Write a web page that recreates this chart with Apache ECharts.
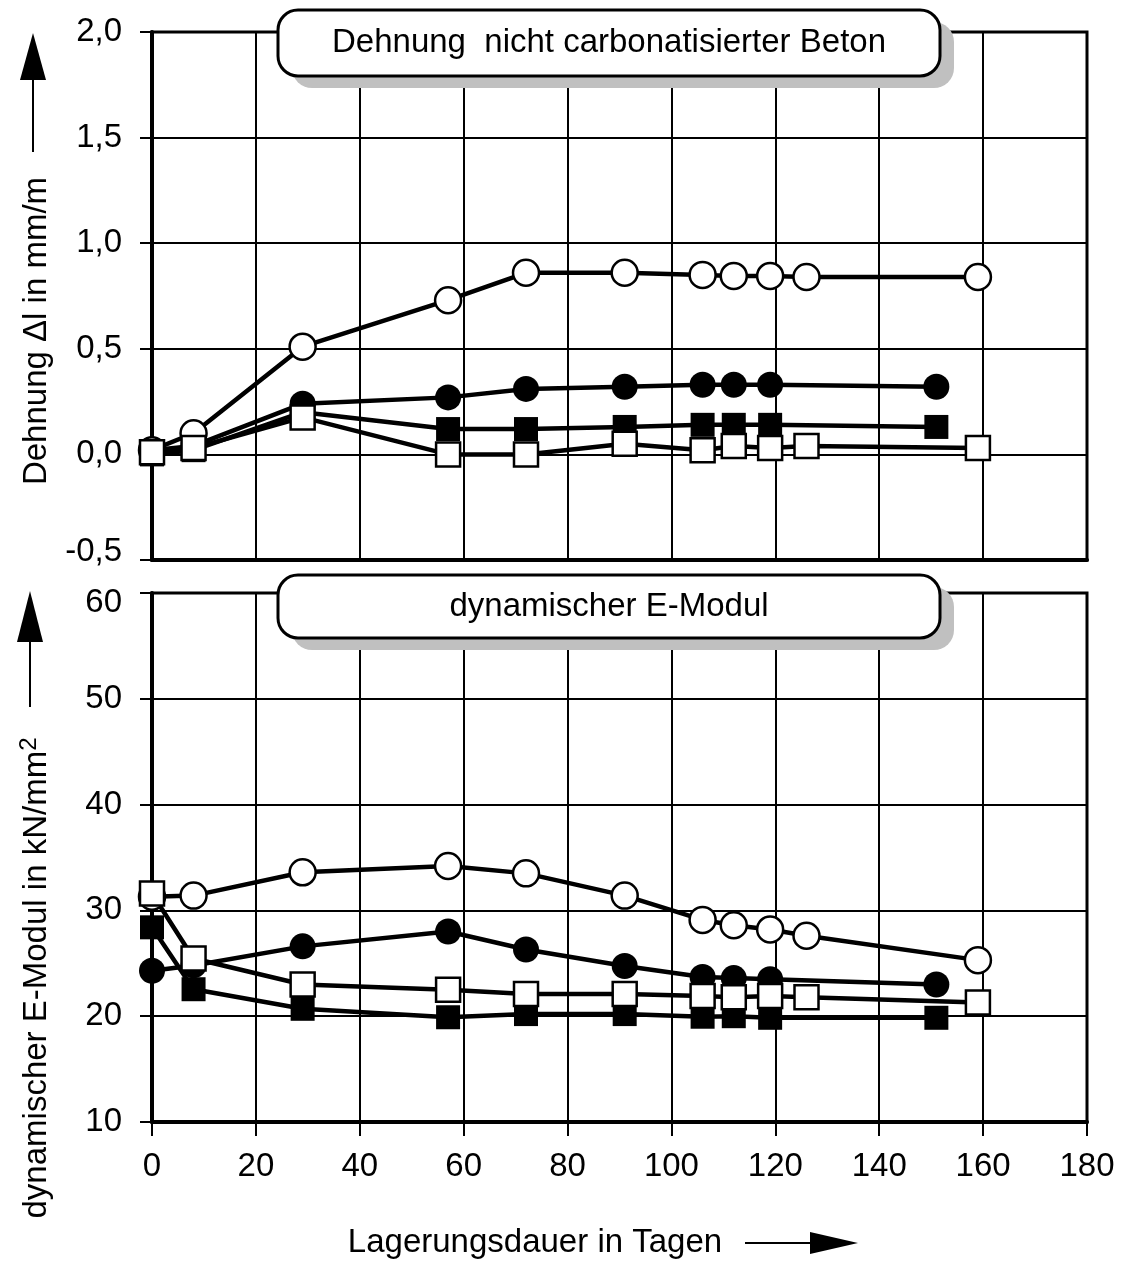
<!DOCTYPE html>
<html><head><meta charset="utf-8">
<script src="https://cdn.jsdelivr.net/npm/echarts/dist/echarts.min.js"></script>
<style>html,body{margin:0;padding:0;background:#fff}#c{width:1121px;height:1261px}</style>
</head><body><div id="c"></div>
<script>
// ---- tick labels ----
const xTickValues = [0, 20, 40, 60, 80, 100, 120, 140, 160, 180];
const strainTicks = ['-0,5', '0,0', '0,5', '1,0', '1,5', '2,0'];
const modulusTicks = ['10', '20', '30', '40', '50', '60'];

// ---- days ----
const daysOpenCircle = [0, 8, 29, 57, 72, 91, 106, 112, 119, 126, 159];
const daysFilledCircle = [0, 8, 29, 57, 72, 91, 106, 112, 119, 151];
const daysFilledSquare = [0, 8, 29, 57, 72, 91, 106, 112, 119, 151];
const daysOpenSquare = [0, 8, 29, 57, 72, 91, 106, 112, 119, 126, 159];

// ---- Dehnung (mm/m) ----
const strainOpenCircle = [0.02, 0.10, 0.51, 0.73, 0.86, 0.86, 0.85, 0.845, 0.845, 0.84, 0.84];
const strainFilledCircle = [0.02, 0.04, 0.24, 0.27, 0.31, 0.32, 0.33, 0.33, 0.33, 0.32];
const strainFilledSquare = [0.00, 0.02, 0.20, 0.12, 0.12, 0.13, 0.14, 0.14, 0.14, 0.13];
const strainOpenSquare = [0.01, 0.03, 0.175, 0.00, 0.00, 0.05, 0.02, 0.04, 0.03, 0.04, 0.03];

// ---- dyn. E-Modul (kN/mm2) ----
const modOpenCircle = [31.3, 31.4, 33.6, 34.2, 33.5, 31.4, 29.1, 28.6, 28.2, 27.6, 25.3];
const modFilledCircle = [24.3, 24.8, 26.6, 28.0, 26.3, 24.75, 23.7, 23.6, 23.5, 23.0];
const modFilledSquare = [28.4, 22.55, 20.7, 19.9, 20.2, 20.2, 19.95, 20.0, 19.85, 19.85];
const modOpenSquare = [31.6, 25.45, 23.0, 22.5, 22.1, 22.1, 21.9, 21.8, 21.9, 21.8, 21.3];

const titleTop = 'Dehnung  nicht carbonatisierter Beton';
const titleBottom = 'dynamischer E-Modul';
const yNameTop = 'Dehnung \u0394l in mm/m';
const yNameBottom = 'dynamischer E-Modul in kN/mm';
const xName = 'Lagerungsdauer in Tagen';

const FONT = '"Liberation Sans", Arial, sans-serif';
const FS = 33;
const zip = (xs, ys) => xs.map((x, i) => [x, ys[i]]);

function mkSeries(xIdx, days, vals, symbol, filled) {
  return {
    type: 'line', xAxisIndex: xIdx, yAxisIndex: xIdx,
    data: zip(days, vals),
    symbol: symbol,
    symbolSize: symbol === 'circle' ? 26 : 24,
    lineStyle: { color: '#000', width: 4.5 },
    itemStyle: { color: filled ? '#000' : '#fff', borderColor: '#000', borderWidth: filled ? 0 : 2.5, opacity: 1 },
    emphasis: { disabled: true },
    animation: false, silent: true, z: 3
  };
}

function box(x, y, w, h, text) {
  return [
    { type: 'rect', z: 100, shape: { x: x + 14, y: y + 12, width: w, height: h, r: 20 }, style: { fill: '#c0c0c0' } },
    { type: 'rect', z: 101, shape: { x: x, y: y, width: w, height: h, r: 20 }, style: { fill: '#fff', stroke: '#000', lineWidth: 3 } },
    { type: 'text', z: 102, x: x + w / 2, y: y + h / 2, style: { text: text, font: FS + 'px ' + FONT, fill: '#000', textAlign: 'center', textVerticalAlign: 'middle' } }
  ];
}

const chart = echarts.init(document.getElementById('c'), null, { renderer: 'canvas' });
const labelRich = {
  up: { fontSize: FS, fontFamily: FONT, color: '#000', padding: [0, 0, 16, 0] },
  dn: { fontSize: FS, fontFamily: FONT, color: '#000', padding: [20, 0, 0, 0] }
};
const yAxisCommon = {
  type: 'value',
  axisLine: { show: true, lineStyle: { color: '#000', width: 4 } },
  axisTick: { show: true, length: 12, lineStyle: { color: '#000', width: 2 } },
  splitLine: { show: true, lineStyle: { color: '#000', width: 2 } },
  axisLabel: { color: '#000', fontSize: FS, fontFamily: FONT, margin: 30, rich: labelRich }
};

chart.setOption({
  animation: false,
  backgroundColor: '#fff',
  grid: [
    { left: 152, right: 34, top: 32, height: 528, show: true, borderColor: '#000', borderWidth: 3, backgroundColor: 'transparent' },
    { left: 152, right: 34, top: 593, height: 529, show: true, borderColor: '#000', borderWidth: 3, backgroundColor: 'transparent' }
  ],
  xAxis: [
    { type: 'value', gridIndex: 0, min: 0, max: 180, interval: 20,
      axisLine: { show: true, onZero: false, lineStyle: { color: '#000', width: 4 } },
      axisTick: { show: false }, axisLabel: { show: false },
      splitLine: { show: true, lineStyle: { color: '#000', width: 2 } } },
    { type: 'value', gridIndex: 1, min: 0, max: 180, interval: 20,
      axisLine: { show: true, onZero: false, lineStyle: { color: '#000', width: 4 } },
      axisTick: { show: true, length: 14, lineStyle: { color: '#000', width: 2 } },
      axisLabel: { color: '#000', fontSize: FS, fontFamily: FONT, margin: 28,
        formatter: v => xTickValues.includes(v) ? String(v) : '' },
      splitLine: { show: true, lineStyle: { color: '#000', width: 2 } } }
  ],
  yAxis: [
    Object.assign({}, yAxisCommon, { gridIndex: 0, min: -0.5, max: 2.0, interval: 0.5,
      axisLabel: Object.assign({}, yAxisCommon.axisLabel, { formatter: v => {
        const t = strainTicks[Math.round((v + 0.5) / 0.5)];
        return v < -0.25 ? '{up|' + t + '}' : t;
      } }) }),
    Object.assign({}, yAxisCommon, { gridIndex: 1, min: 10, max: 60, interval: 10,
      axisLabel: Object.assign({}, yAxisCommon.axisLabel, { formatter: v => {
        const t = modulusTicks[Math.round((v - 10) / 10)];
        return v > 55 ? '{dn|' + t + '}' : t;
      } }) })
  ],
  series: [
    mkSeries(0, daysFilledCircle, strainFilledCircle, 'circle', true),
    mkSeries(0, daysFilledSquare, strainFilledSquare, 'rect', true),
    mkSeries(0, daysOpenCircle, strainOpenCircle, 'circle', false),
    mkSeries(0, daysOpenSquare, strainOpenSquare, 'rect', false),
    mkSeries(1, daysFilledCircle, modFilledCircle, 'circle', true),
    mkSeries(1, daysFilledSquare, modFilledSquare, 'rect', true),
    mkSeries(1, daysOpenCircle, modOpenCircle, 'circle', false),
    mkSeries(1, daysOpenSquare, modOpenSquare, 'rect', false)
  ],
  graphic: [].concat(
    box(278, 10, 662, 66, titleTop),
    box(278, 575, 662, 63, titleBottom),
    [
      { type: 'text', z: 50, x: 37, y: 331, rotation: Math.PI / 2,
        style: { text: yNameTop, font: FS + 'px ' + FONT, fill: '#000', textAlign: 'center', textVerticalAlign: 'middle' } },
      { type: 'polygon', z: 50, shape: { points: [[33, 33], [20, 80], [46, 80]] }, style: { fill: '#000' } },
      { type: 'line', z: 50, shape: { x1: 33, y1: 80, x2: 33, y2: 152 }, style: { stroke: '#000', lineWidth: 2 } },
      { type: 'text', z: 50, x: 37, y: 978, rotation: Math.PI / 2,
        style: { text: '{a|' + yNameBottom + '}{s|2}', font: FS + 'px ' + FONT, fill: '#000', textAlign: 'center', textVerticalAlign: 'middle',
          rich: { a: { font: FS + 'px ' + FONT, fill: '#000' }, s: { font: '24px ' + FONT, fill: '#000', padding: [0, 0, 16, 0] } } } },
      { type: 'polygon', z: 50, shape: { points: [[30, 591], [17, 642], [43, 642]] }, style: { fill: '#000' } },
      { type: 'line', z: 50, shape: { x1: 30, y1: 642, x2: 30, y2: 707 }, style: { stroke: '#000', lineWidth: 2 } },
      { type: 'text', z: 50, x: 535, y: 1243,
        style: { text: xName, font: FS + 'px ' + FONT, fill: '#000', textAlign: 'center', textVerticalAlign: 'middle' } },
      { type: 'line', z: 50, shape: { x1: 745, y1: 1243, x2: 812, y2: 1243 }, style: { stroke: '#000', lineWidth: 2 } },
      { type: 'polygon', z: 50, shape: { points: [[810, 1232], [858, 1243], [810, 1254]] }, style: { fill: '#000' } }
    ]
  )
});
</script>
</body></html>
